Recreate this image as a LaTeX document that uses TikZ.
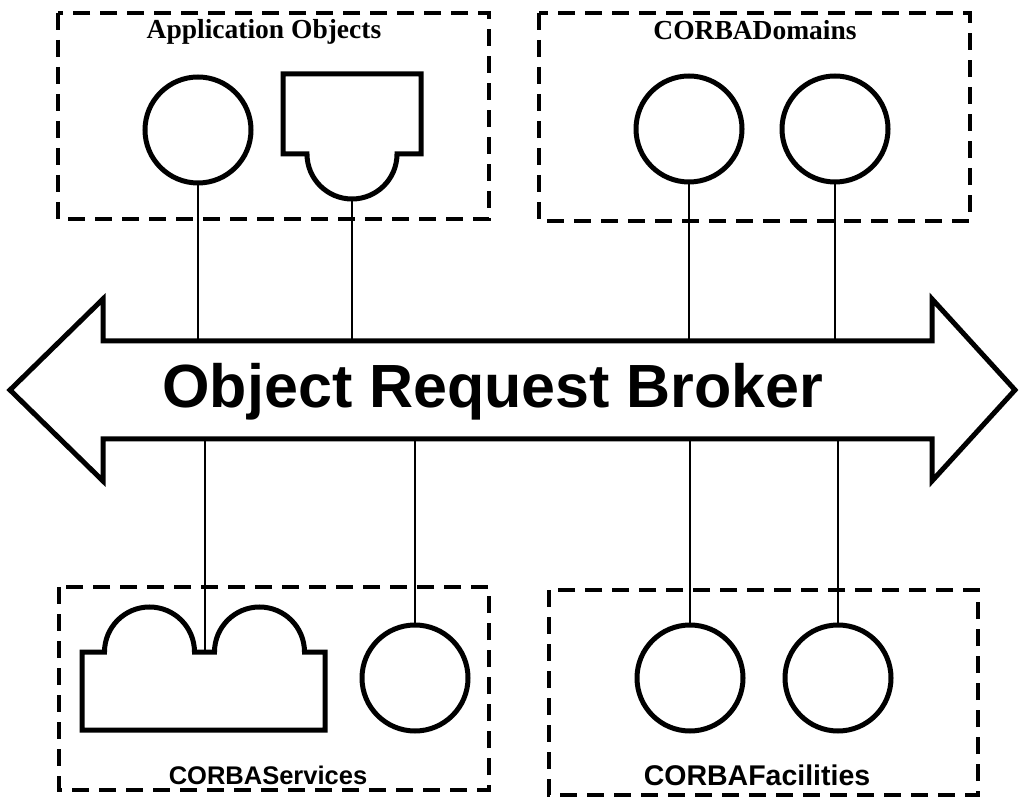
\documentclass[tikz,border=0pt]{standalone}
\usepackage{fontspec}
\newfontfamily\timesfont{Liberation Serif}
\newfontfamily\arialfont{Liberation Sans}
\usetikzlibrary{positioning}
\tikzset{
  group/.style={draw, line width=3.5pt, dash pattern=on 17pt off 10pt},
  obj/.style={circle, draw, line width=5pt, minimum size=106pt, inner sep=0pt},
  outline/.style={line width=5pt, line join=miter},
  link/.style={line width=2.5pt},
  toplabel/.style={font=\timesfont\bfseries\fontsize{27.5}{30}\selectfont, anchor=base},
  botlabel/.style={font=\arialfont\bfseries\fontsize{27}{30}\selectfont, anchor=base},
}

\begin{document}
\begin{tikzpicture}[x=1pt, y=1pt]
        \useasboundingbox (0,0) rectangle (1019,798);
        % dashed groups
        \draw[group] (58,785) rectangle (489,579);
        \draw[group] (539,785) rectangle (970,577);
        \draw[group] (59,211) rectangle (489,8);
        \draw[group] (549,208) rectangle (978,3);
        \node[toplabel] (applbl) at (264,759) {Application Objects};
        \node[toplabel] (domlbl) at (755,758) {CORBADomains};
        \node[botlabel, font=\arialfont\bfseries\fontsize{25.5}{30}\selectfont] (srvlbl)
              at (268,14) {CORBAServices};
        \node[botlabel, font=\arialfont\bfseries\fontsize{28.5}{30}\selectfont] (faclbl)
              at (757,13) {CORBAFacilities};
        % broker
        \draw[outline] (10,408) -- (103,499) -- (103,457) -- (932,457)
              -- (932,499) -- (1015,408) -- (932,317) -- (932,359)
              -- (103,359) -- (103,317) -- cycle;
        \node[font=\arialfont\bfseries\fontsize{61}{70}\selectfont, anchor=base] (orb)
              at (493,390) {Object Request Broker};
        \coordinate (orbtop) at (509,457);
        \coordinate (orbbot) at (509,359);
        % objects
        \node[obj] (ao1) at (198,668) {};
        \draw[outline] (283,644) -- (283,724) -- (421,724) -- (421,644) -- (397,644)
              arc[start angle=0, end angle=-180, radius=45] -- cycle;
        \coordinate (ao2) at (352,599);
        \node[obj] (dom1) at (689,669) {};
        \node[obj] (dom2) at (835,669) {};
        \draw[outline] (82,68) -- (82,146) -- (104.5,146)
              arc[start angle=180, end angle=0, radius=45] -- (214.5,146)
              arc[start angle=180, end angle=0, radius=45] -- (325,146)
              -- (325,68) -- cycle;
        \coordinate (srv1) at (205,146);
        \node[obj] (srv2) at (415,120) {};
        \node[obj] (fac1) at (690,120) {};
        \node[obj] (fac2) at (838,120) {};
        % links
        \draw[link] (ao1.south) -- (ao1.south |- orbtop);
        \draw[link] (ao2) -- (ao2 |- orbtop);
        \draw[link] (dom1.south) -- (dom1.south |- orbtop);
        \draw[link] (dom2.south) -- (dom2.south |- orbtop);
        \draw[link] (srv1) -- (srv1 |- orbbot);
        \draw[link] (srv2.north) -- (srv2.north |- orbbot);
        \draw[link] (fac1.north) -- (fac1.north |- orbbot);
        \draw[link] (fac2.north) -- (fac2.north |- orbbot);
      \end{tikzpicture}
\end{document}
